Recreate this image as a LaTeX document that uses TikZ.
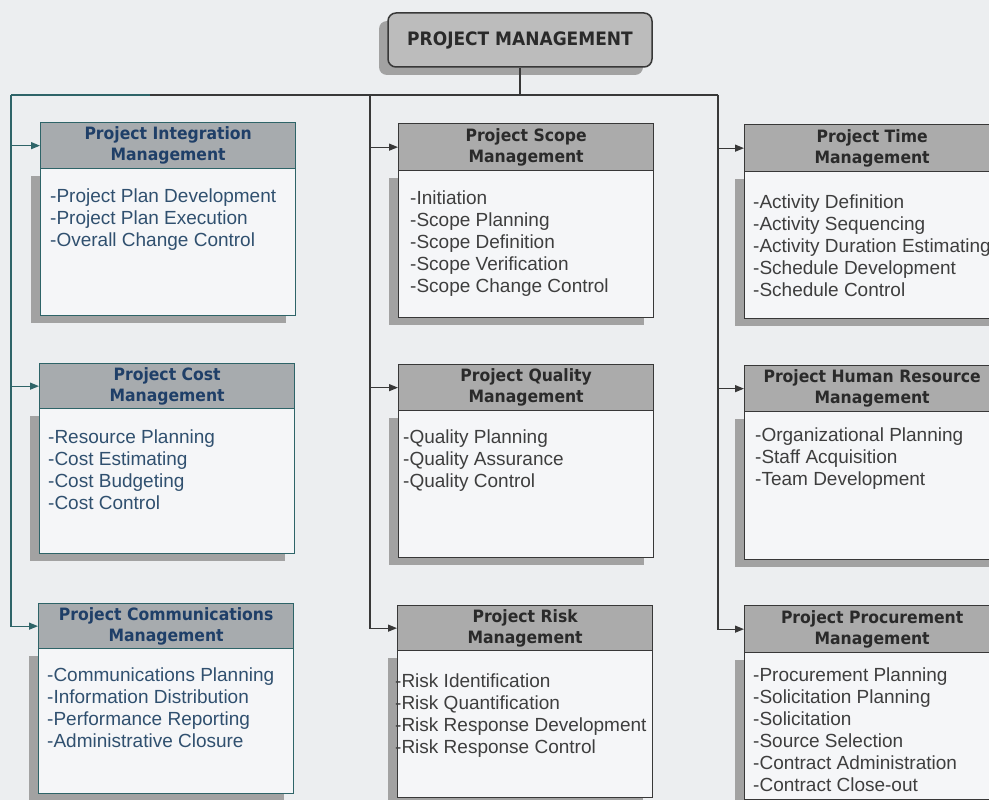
\documentclass[tikz,border=0pt]{standalone}
\usepackage{fontspec}
\setmainfont{Liberation Sans}
\newfontfamily\headfont{DejaVu Sans}[FakeStretch=0.92]
\usetikzlibrary{arrows.meta,shadows}

% palette
\definecolor{paper}{HTML}{ECEEF0}
\definecolor{boxwhite}{HTML}{F5F6F8}
\definecolor{shadowgray}{HTML}{A2A2A2}
\definecolor{tealline}{HTML}{2E6468}
\definecolor{tealband}{HTML}{A7ABAE}
\definecolor{tealhead}{HTML}{1F3F68}
\definecolor{tealtext}{HTML}{30506F}
\definecolor{grayline}{HTML}{383838}
\definecolor{grayband}{HTML}{ABABAB}
\definecolor{grayhead}{HTML}{2A2A2A}
\definecolor{graytext}{HTML}{3E3E3E}

\tikzset{
  titleband/.style={draw=#1line, fill=#1band, line width=1.3pt, text=#1head,
    font=\headfont\bfseries\fontsize{17}{21}\selectfont, align=center,
    inner sep=0pt, anchor=north west, minimum width=255pt},
  bodybox/.style={draw=#1line, fill=boxwhite, line width=1.3pt,
    anchor=north west, minimum width=255pt, inner sep=0pt,
    drop shadow={shadow xshift=-10pt, shadow yshift=-7pt, opacity=1, fill=shadowgray}},
  itemtext/.style={text=#1text, font=\fontsize{19}{22}\selectfont,
    anchor=base west, inner sep=0pt},
  link/.style={draw=#1line, line width=1.3pt},
  tip/.style={-{Triangle[length=9pt,width=7pt]}},
  topbox/.style={draw=grayline, fill=grayband!80!white, line width=1.5pt,
    rounded corners=8pt, minimum width=264pt, minimum height=54pt,
    text=grayhead, font=\headfont\bfseries\fontsize{18.5}{22}\selectfont,
    drop shadow={shadow xshift=-9pt, shadow yshift=-8pt, opacity=1, fill=shadowgray}}
}

% knowledge-area box: name, left, top, title bottom, body bottom, palette, heading
\newcommand{\kabox}[7]{%
  \node[bodybox=#6, minimum height={#5-#4}] (#1b) at (#2,#4) {};
  \node[titleband=#6, minimum height={#4-#3}] (#1) at (#2,#3) {#7};
}
% process list: name, x, first baseline, palette, items
\newcommand{\kaitems}[5]{%
  \foreach \itm [count=\k from 0] in {#5}
    \node[itemtext=#4] (#1-i\k) at (#2,#3+22*\k) {\itm};
}

\begin{document}
\begin{tikzpicture}[x=1pt,y=-1pt]
\useasboundingbox (0,0) rectangle (989,800);
\fill[paper] (0,0) rectangle (989,800);
\clip (0,0) rectangle (989,800);

\node[topbox] (pm) at (520,40) {PROJECT MANAGEMENT};

% left column
\kabox{integ}{40}{122}{168}{315}{teal}{Project Integration\\Management}
\kaitems{integ}{50}{202}{teal}{-Project Plan Development,-Project Plan Execution,-Overall Change Control}
\kabox{cost}{39}{363}{408}{553}{teal}{Project Cost\\Management}
\kaitems{cost}{48}{443}{teal}{-Resource Planning,-Cost Estimating,-Cost Budgeting,-Cost Control}
\kabox{comm}{38}{603}{648}{793}{teal}{Project Communications\\Management}
\kaitems{comm}{47}{681}{teal}{-Communications Planning,-Information Distribution,-Performance Reporting,-Administrative Closure}

% middle column
\kabox{scope}{398}{123}{170}{317}{gray}{Project Scope\\Management}
\kaitems{scope}{410}{204}{gray}{-Initiation,-Scope Planning,-Scope Definition,-Scope Verification,-Scope Change Control}
\kabox{quality}{398}{364}{410}{557}{gray}{Project Quality\\Management}
\kaitems{quality}{403}{443}{gray}{-Quality Planning,-Quality Assurance,-Quality Control}
\kabox{risk}{397}{605}{650}{797}{gray}{Project Risk\\Management}
\kaitems{risk}{395}{687}{gray}{-Risk Identification,-Risk Quantification,-Risk Response Development,-Risk Response Control}

% right column
\kabox{time}{744}{124}{171}{318}{gray}{Project Time\\Management}
\kaitems{time}{753}{208}{gray}{-Activity Definition,-Activity Sequencing,-Activity Duration Estimating,-Schedule Development,-Schedule Control}
\kabox{hr}{744}{365}{411}{559}{gray}{Project Human Resource\\Management}
\kaitems{hr}{755}{441}{gray}{-Organizational Planning,-Staff Acquisition,-Team Development}
\kabox{proc}{744}{605}{652}{799}{gray}{Project Procurement\\Management}
\kaitems{proc}{753}{681}{gray}{-Procurement Planning,-Solicitation Planning,-Solicitation,-Source Selection,-Contract Administration,-Contract Close-out}

% connectors
\coordinate (busl) at (11,95);
\coordinate (bust) at (150,95);
\coordinate (busm) at (370,95);
\coordinate (busr) at (718,95);

\draw[link=gray] (pm.south) -- (pm.south |- busm);
\draw[link=gray] (busl) -- (busr);
\draw[link=teal] (busl) -- (bust);

\draw[link=teal, tip] (busl) |- (comm.west);
\draw[link=teal, tip] (busl |- integ.west) -- (integ.west);
\draw[link=teal, tip] (busl |- cost.west) -- (cost.west);

\draw[link=gray, tip] (busm) |- (risk.west);
\draw[link=gray, tip] (busm |- scope.west) -- (scope.west);
\draw[link=gray, tip] (busm |- quality.west) -- (quality.west);

\draw[link=gray, tip] (busr) |- (proc.west);
\draw[link=gray, tip] (busr |- time.west) -- (time.west);
\draw[link=gray, tip] (busr |- hr.west) -- (hr.west);
\end{tikzpicture}
\end{document}
